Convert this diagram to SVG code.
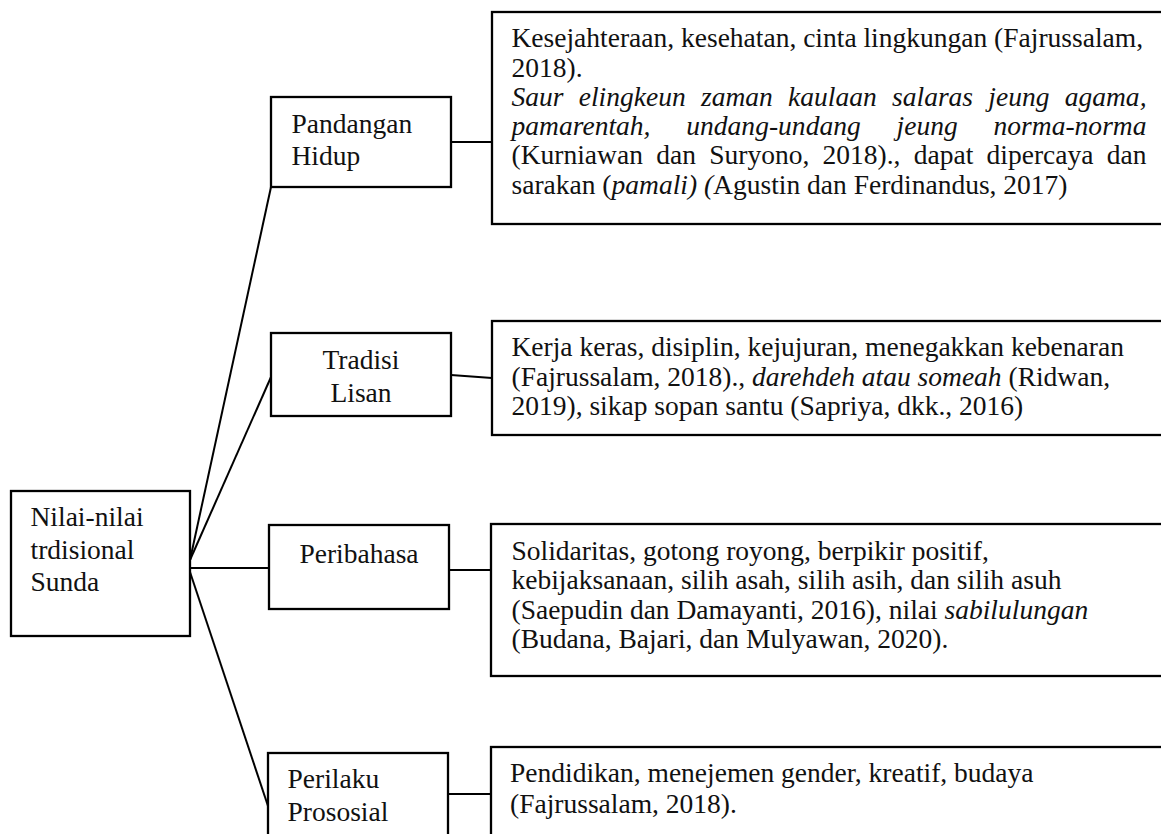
<svg xmlns="http://www.w3.org/2000/svg" width="1161" height="834" viewBox="0 0 1161 834">
<style>
  .box { fill: #ffffff; stroke: #000000; stroke-width: 2.3; }
  .edge { fill: none; stroke: #000000; stroke-width: 2; }
  text { font-family: "Liberation Serif", "Times New Roman", serif; font-size: 27.5px; fill: #111111; }
  .it { font-style: italic; }
  .mid { text-anchor: middle; }
</style>
<rect x="0" y="0" width="1161" height="834" fill="#ffffff"/>
<g id="connectors">
  <line class="edge" x1="190" y1="560" x2="271" y2="187"/>
  <line class="edge" x1="190" y1="560" x2="271" y2="377"/>
  <line class="edge" x1="190" y1="568" x2="269" y2="568"/>
  <line class="edge" x1="190" y1="572" x2="269" y2="809"/>
  <line class="edge" x1="451" y1="142" x2="492" y2="142"/>
  <line class="edge" x1="451" y1="375" x2="492" y2="378"/>
  <line class="edge" x1="449" y1="570" x2="491" y2="570"/>
  <line class="edge" x1="448" y1="794" x2="491" y2="794"/>
</g>
<g id="root">
  <rect class="box" x="11" y="491" width="179" height="145"/>
  <text x="30.5" y="526">Nilai-nilai</text>
  <text x="30.5" y="559">trdisional</text>
  <text x="30.5" y="591">Sunda</text>
</g>
<g id="pandangan">
  <rect class="box" x="271" y="97" width="180" height="90"/>
  <text x="291.5" y="133">Pandangan</text>
  <text x="291.5" y="165">Hidup</text>
</g>
<g id="tradisi">
  <rect class="box" x="271" y="333" width="180" height="83"/>
  <text class="mid" x="361" y="369">Tradisi</text>
  <text class="mid" x="361" y="401.5">Lisan</text>
</g>
<g id="peribahasa">
  <rect class="box" x="269" y="525" width="180" height="84"/>
  <text class="mid" x="359" y="562.5">Peribahasa</text>
</g>
<g id="perilaku">
  <rect class="box" x="268" y="753" width="180" height="100"/>
  <text x="287.5" y="788">Perilaku</text>
  <text x="287.5" y="820.5">Prososial</text>
</g>
<g id="desc-pandangan">
  <rect class="box" x="492" y="12" width="690" height="212"/>
  <text x="511.5" y="47">Kesejahteraan, kesehatan, cinta lingkungan (Fajrussalam,</text>
  <text x="511.5" y="76.5">2018).</text>
  <text class="it" x="511.5" y="106" word-spacing="8.4" textLength="635" lengthAdjust="spacing">Saur elingkeun zaman kaulaan salaras jeung agama,</text>
  <text class="it" x="511.5" y="135" word-spacing="28.9" textLength="635" lengthAdjust="spacing">pamarentah, undang-undang jeung norma-norma</text>
  <text x="511.5" y="164" word-spacing="6.4" textLength="635" lengthAdjust="spacing">(Kurniawan dan Suryono, 2018)., dapat dipercaya dan</text>
  <text x="511.5" y="193.5">sarakan (<tspan class="it">pamali) (</tspan>Agustin dan Ferdinandus, 2017)</text>
</g>
<g id="desc-tradisi">
  <rect class="box" x="492" y="321" width="690" height="114"/>
  <text x="511.5" y="356">Kerja keras, disiplin, kejujuran, menegakkan kebenaran</text>
  <text x="511.5" y="385.5">(Fajrussalam, 2018)., <tspan class="it">darehdeh atau someah</tspan> (Ridwan,</text>
  <text x="511.5" y="415">2019), sikap sopan santu (Sapriya, dkk., 2016)</text>
</g>
<g id="desc-peribahasa">
  <rect class="box" x="491" y="524" width="690" height="152"/>
  <text x="511.5" y="559.5">Solidaritas, gotong royong, berpikir positif,</text>
  <text x="511.5" y="589">kebijaksanaan, silih asah, silih asih, dan silih asuh</text>
  <text x="511.5" y="618.5">(Saepudin dan Damayanti, 2016), nilai <tspan class="it">sabilulungan</tspan></text>
  <text x="511.5" y="648">(Budana, Bajari, dan Mulyawan, 2020).</text>
</g>
<g id="desc-perilaku">
  <rect class="box" x="491" y="747" width="690" height="120"/>
  <text x="510" y="782">Pendidikan, menejemen gender, kreatif, budaya</text>
  <text x="510" y="813">(Fajrussalam, 2018).</text>
</g>
</svg>
